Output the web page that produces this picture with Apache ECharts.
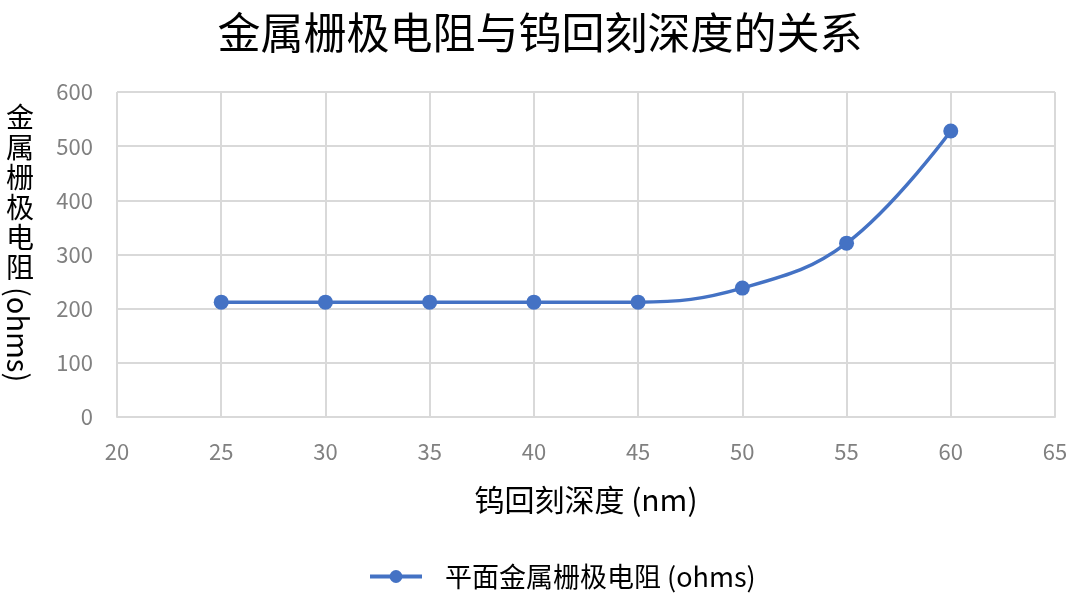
<!DOCTYPE html>
<html>
<head>
<meta charset="utf-8">
<script src="https://cdn.jsdelivr.net/npm/echarts@6/dist/echarts.min.js"></script>
<style>
  html, body { margin: 0; padding: 0; background: #fff; }
  #chart { width: 1080px; height: 597px; }
</style>
</head>
<body>
<div id="chart"></div>
<script>
// 数据
var depth = [25, 30, 35, 40, 45, 50, 55, 60];
var resistance = [212, 212, 212, 212, 212, 238, 321, 528];
var seriesName = '平面金属栅极电阻 (ohms)';

var points = depth.map(function (d, i) {
    return [d, resistance[i]];
});

var chart = echarts.init(document.getElementById('chart'));
var font = '"Noto Sans CJK SC", "Noto Sans", sans-serif';

var option = {
    backgroundColor: '#ffffff',
    textStyle: { fontFamily: font },
    title: {
        text: '金属栅极电阻与钨回刻深度的关系',
        left: 'center',
        top: 6,
        textStyle: { fontSize: 43, fontWeight: 'normal', color: '#000', fontFamily: font }
    },
    legend: {
        left: 363,
        top: 558,
        itemWidth: 52,
        itemHeight: 16,
        itemGap: 10,
        lineStyle: { width: 4 },
        textStyle: { fontSize: 27, color: '#000', fontFamily: font, padding: [0, 0, 0, 18] },
        data: [seriesName]
    },
    grid: { left: 117, right: 25, top: 92, bottom: 180 },
    xAxis: {
        type: 'value',
        min: 20,
        max: 65,
        interval: 5,
        name: '钨回刻深度 (nm)',
        nameLocation: 'middle',
        nameGap: 68,
        nameTextStyle: { fontSize: 30, color: '#000', fontFamily: font },
        axisLine: { show: true, lineStyle: { color: '#d9d9d9', width: 2 } },
        axisTick: { show: false },
        axisLabel: { fontSize: 22, color: '#808080', margin: 24, fontFamily: font },
        splitLine: { show: true, lineStyle: { color: '#d9d9d9', width: 2 } }
    },
    yAxis: {
        type: 'value',
        min: 0,
        max: 600,
        interval: 100,
        axisLine: { show: false },
        axisTick: { show: false },
        axisLabel: { fontSize: 22, color: '#808080', margin: 24, fontFamily: font },
        splitLine: { show: true, lineStyle: { color: '#d9d9d9', width: 2 } }
    },
    graphic: [
        {
            type: 'text',
            left: 6,
            top: 102,
            style: {
                text: '金\n属\n栅\n极\n电\n阻',
                fontSize: 28,
                lineHeight: 30,
                fontFamily: font,
                fill: '#000'
            }
        },
        {
            type: 'text',
            x: 4,
            y: 287,
            rotation: -Math.PI / 2,
            style: {
                text: '(ohms)',
                fontSize: 29,
                fontFamily: font,
                fill: '#000',
                verticalAlign: 'bottom'
            }
        }
    ],
    series: [{
        name: seriesName,
        type: 'line',
        data: points,
        smooth: 0.4,
        symbol: 'circle',
        symbolSize: 15,
        color: '#4472c4',
        lineStyle: { width: 3.5, color: '#4472c4' },
        itemStyle: { color: '#4472c4' }
    }]
};

chart.setOption(option);
</script>
</body>
</html>
